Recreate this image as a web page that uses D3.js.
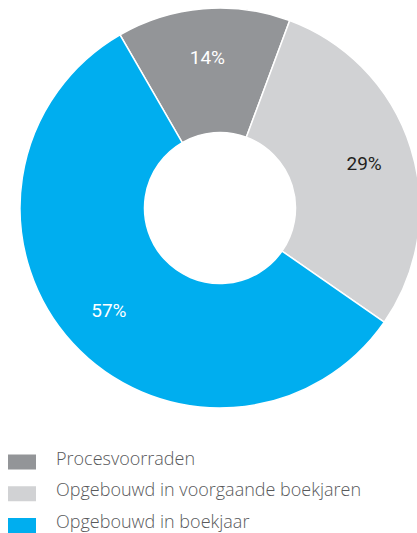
<!DOCTYPE html>
<html>
<head>
<meta charset="utf-8">
<script src="https://cdn.jsdelivr.net/npm/d3@7"></script>
<style>
  body { margin: 0; background: #fff; }
  svg { display: block; }
</style>
</head>
<body>
<svg width="417" height="533"></svg>
<script>
/* Data */
const categories = ['Procesvoorraden', 'Opgebouwd in voorgaande boekjaren', 'Opgebouwd in boekjaar'];
const values = [14, 29, 57];
const labels = ['14%', '29%', '57%'];
const colors = ['#939598', '#d1d2d4', '#00aeef'];
const labelColors = ['#ffffff', '#231f20', '#ffffff'];

/* SVG */
const svg = d3.select('svg');
const cx = 220, cy = 208;
const outerR = 200, innerR = 75.5;

/* Pie */
const pie = d3.pie()
  .sort(null)
  .startAngle(-30 * Math.PI / 180)
  .endAngle(330 * Math.PI / 180);

const arc = d3.arc().innerRadius(innerR).outerRadius(outerR);
const labelArc = d3.arc().innerRadius(151).outerRadius(151);

const g = svg.append('g').attr('transform', `translate(${cx},${cy})`);

const arcs = pie(values);

g.selectAll('path.slice').data(arcs)
  .enter().append('path')
  .attr('class', 'slice')
  .attr('d', arc)
  .attr('fill', (d, i) => colors[i])
  .attr('stroke', '#fff')
  .attr('stroke-width', 1.5);

// percentage labels
g.selectAll('text.pct').data(arcs)
  .enter().append('text')
  .attr('class', 'pct')
  .attr('transform', d => `translate(${labelArc.centroid(d)})`)
  .attr('text-anchor', 'middle')
  .attr('dy', '0.36em')
  .attr('fill', (d, i) => labelColors[i])
  .style('font-family', 'Roboto, "Noto Sans", sans-serif')
  .style('font-size', '19px')
  .style('font-weight', 400)
  .text((d, i) => labels[i]);

/* Legend */
const legend = svg.append('g').attr('class', 'legend');
const rowY = d3.scalePoint().domain(categories).range([454.5, 518]);

const rows = legend.selectAll('g').data(categories)
  .enter().append('g')
  .attr('transform', d => `translate(0,${rowY(d)})`);

rows.append('rect')
  .attr('x', 8)
  .attr('width', 28)
  .attr('height', 15)
  .attr('fill', (d, i) => colors[i]);

rows.append('text')
  .attr('x', 56)
  .attr('y', 10)
  .attr('fill', '#58595b')
  .style('font-family', '"Open Sans", sans-serif')
  .style('font-size', '18px')
  .style('font-weight', 300)
  .text(d => d);
</script>
</body>
</html>
